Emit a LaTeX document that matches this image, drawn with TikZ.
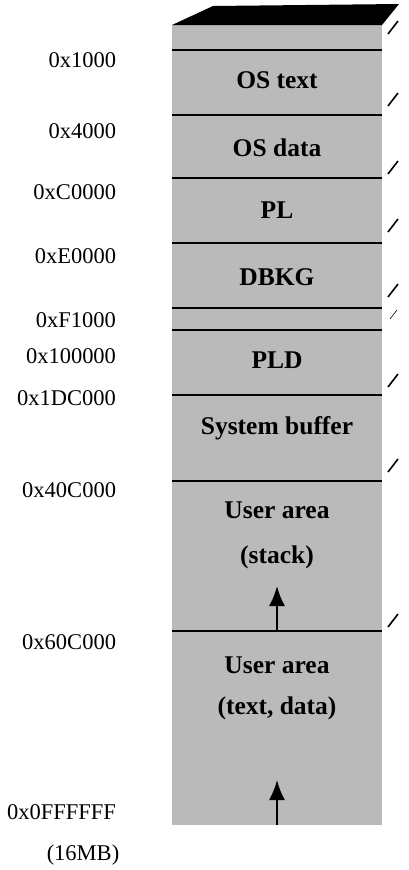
\documentclass[tikz,border=0pt]{standalone}
\usepackage{fontspec}
\setmainfont{Liberation Serif}
\usetikzlibrary{arrows.meta}
\tikzset{
  addr/.style={anchor=east, inner sep=0pt, font=\fontsize{22.5}{25}\selectfont},
  area/.style={inner sep=0pt, align=center, font=\fontsize{25.5}{28}\selectfont\bfseries},
  edgemark/.style={line width=1.6pt},
  growth/.style={line width=2.2pt, -{Latex[length=20pt,width=16pt]}},
}
\begin{document}
\begin{tikzpicture}[x=1pt, y=-1pt, line width=2pt]
  \useasboundingbox (0,0) rectangle (408,870);
  % the memory column with its dark top face
  \coordinate (tl) at (172,25);
  \coordinate (br) at (382,825);
  \fill[black!27] (tl) rectangle (br);
  \fill[black] (tl) -- (213,6) -- (399,4) -- (br |- tl) -- cycle;
  % borders between the areas
  \foreach \y in {50,115,178,243,308,330,395,481,631}
    \draw (172,\y) -- (382,\y);
  % small marks right of the column
  \foreach \y in {34,106,174,232,297,387,472,627}
    \draw[edgemark] (388,\y) -- (398,\y-13);
  \draw[line width=0.6pt] (390,319) -- (397,310);
  % names of the areas
  \node[area] (ostext) at (277,80) {OS text};
  \node[area] (osdata) at (277,148) {OS data};
  \node[area] (pl) at (277,210) {PL};
  \node[area] (dbkg) at (277,277) {DBKG};
  \node[area] (pld) at (277,360) {PLD};
  \node[area] (sysbuf) at (277,428) {System buffer};
  \node[area] (ustack) at (277,535) {User area\\[17pt](stack)};
  \node[area] (utext) at (277,688) {User area\\[13pt](text, data)};
  % growth arrows
  \coordinate (stackfoot) at (277,631);
  \coordinate (stacktip) at (277,586);
  \coordinate (textfoot) at (277,825);
  \coordinate (texttip) at (277,780);
  \draw[growth] (stackfoot) -- (stacktip);
  \draw[growth] (textfoot) -- (texttip);
  % addresses on the left
  \node[addr] (a1) at (117,60) {0x1000};
  \node[addr] (a2) at (117,131) {0x4000};
  \node[addr] (a3) at (117,192) {0xC0000};
  \node[addr] (a4) at (117,256) {0xE0000};
  \node[addr] (a5) at (117,320) {0xF1000};
  \node[addr] (a6) at (117,356) {0x100000};
  \node[addr] (a7) at (117,398) {0x1DC000};
  \node[addr] (a8) at (117,490) {0x40C000};
  \node[addr] (a9) at (117,642) {0x60C000};
  \node[addr] (a10) at (117,812) {0x0FFFFFF};
  \node[font=\fontsize{22.5}{25}\selectfont, inner sep=0pt] (size) at (83,855) {(16MB)};
\end{tikzpicture}
\end{document}
